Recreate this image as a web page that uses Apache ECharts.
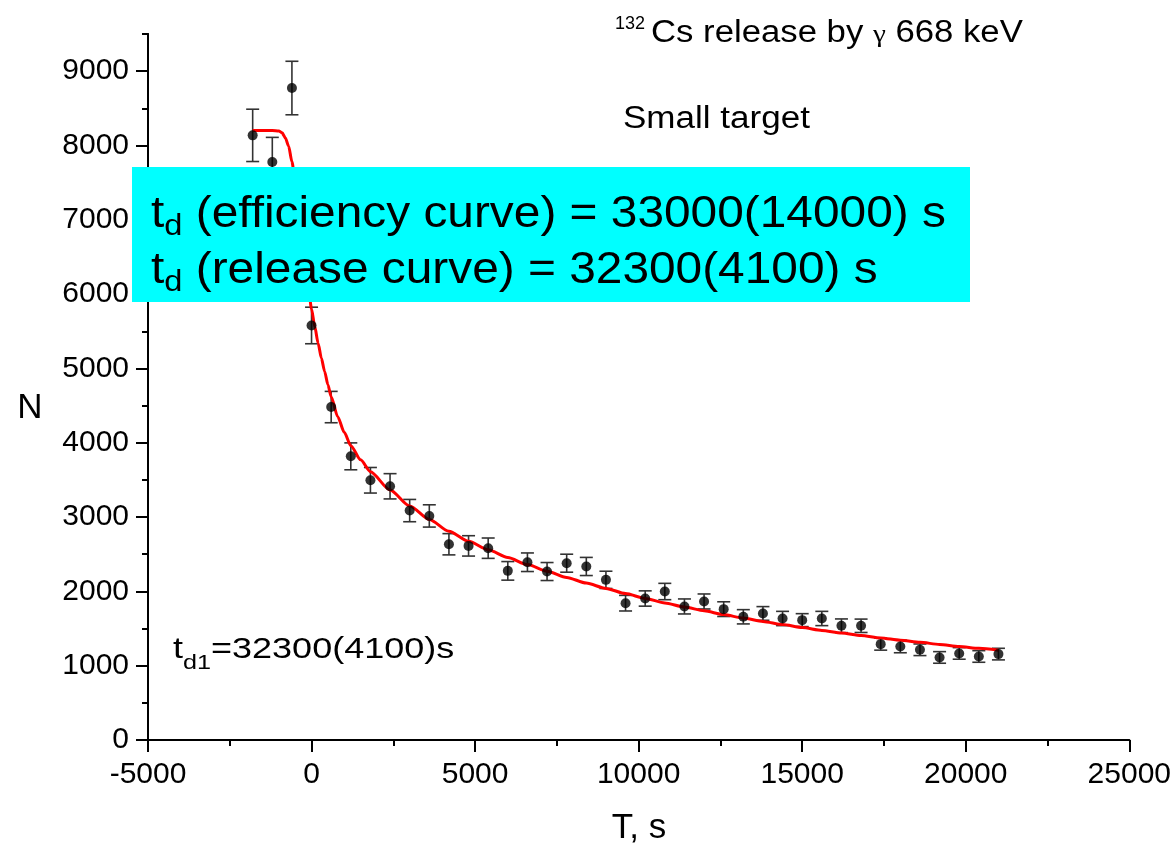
<!DOCTYPE html>
<html>
<head>
<meta charset="utf-8">
<script src="https://cdn.jsdelivr.net/npm/echarts@6/dist/echarts.min.js"></script>
<style>
html,body{margin:0;padding:0;background:#fff;}
#chart{width:1174px;height:847px;}
</style>
</head>
<body>
<div id="chart"></div>
<script>
// ---- data ----
const pointT = [-1800, -1200, -600, 0, 600, 1200, 1800, 2400, 3000, 3600, 4200, 4800, 5400, 6000, 6600, 7200, 7800, 8400, 9000, 9600, 10200, 10800, 11400, 12000, 12600, 13200, 13800, 14400, 15000, 15600, 16200, 16800, 17400, 18000, 18600, 19200, 19800, 20400, 21000];
const pointN = [8136, 7778, 8773, 5578, 4480, 3817, 3495, 3414, 3087, 3015, 2634, 2612, 2581, 2276, 2392, 2267, 2379, 2335, 2155, 1841, 1904, 1998, 1797, 1864, 1761, 1658, 1703, 1635, 1613, 1635, 1537, 1537, 1290, 1259, 1214, 1111, 1165, 1124, 1156];
const pointErr = [352, 331, 360, 246, 211, 181, 172, 170, 150, 150, 143, 137, 137, 125, 125, 121, 121, 122, 116, 105, 103, 110, 101, 101, 99, 96, 92, 96, 87, 96, 92, 90, 81, 85, 78, 78, 78, 78, 78];

const curveT = [-1800, -1200, -1000, -900, -800, -700, -600, -500, -400, -300, -200, -100, 0, 100, 200, 300, 400, 500, 600, 800, 1000, 1200, 1500, 1800, 2400, 3000, 3600, 4200, 4800, 5400, 6000, 6600, 7200, 7800, 8400, 9000, 9600, 10200, 10800, 11400, 12000, 12600, 13200, 13800, 14400, 15000, 15600, 16200, 16800, 17400, 18000, 18600, 19200, 19800, 20400, 21000];
const curveN = [8203, 8203, 8195, 8170, 8100, 7990, 7780, 7520, 7200, 6820, 6450, 6100, 5800, 5560, 5340, 5140, 4960, 4780, 4620, 4350, 4140, 3960, 3770, 3610, 3365, 3150, 2968, 2810, 2675, 2560, 2456, 2360, 2271, 2188, 2111, 2040, 1970, 1905, 1845, 1790, 1738, 1688, 1640, 1595, 1553, 1513, 1475, 1440, 1406, 1374, 1343, 1314, 1286, 1259, 1233, 1208];

const xTicks = [-5000, 0, 5000, 10000, 15000, 20000, 25000];
const yTicks = [0, 1000, 2000, 3000, 4000, 5000, 6000, 7000, 8000, 9000];
const xName = 'T, s';
const yName = 'N';

// ---- helpers ----
const SANS = "'Liberation Sans', Arial, Helvetica, sans-serif";
const SERIF = "'Liberation Serif', 'Times New Roman', serif";
const mctx = document.createElement('canvas').getContext('2d');
function textRuns(x0, items, scale, z) {
  const out = [];
  let x = x0;
  for (const it of items) {
    if (it.x !== undefined) x = it.x;
    const fam = it.family || SANS;
    mctx.font = it.size + 'px ' + fam;
    const w = mctx.measureText(it.text).width;
    const s = it.scale || scale;
    out.push({
      type: 'text', x: x, y: it.base - 0.31 * it.size, scaleX: s, z: z || 120,
      style: { text: it.text, fontSize: it.size, fontFamily: fam, fill: '#000', align: 'left', verticalAlign: 'middle' }
    });
    x += w * s;
  }
  return out;
}

const scatterData = pointT.map((t, i) => [t, pointN[i]]);
const errData = pointT.map((t, i) => [t, pointN[i], pointErr[i]]);
const curveData = curveT.map((t, i) => [t, curveN[i]]);

const graphics = [].concat(
  [{ type: 'rect', shape: { x: 132, y: 167, width: 838, height: 135 }, style: { fill: '#00FFFF' }, z: 110 }],
  textRuns(151, [
    { text: 't', size: 44, base: 228 },
    { text: 'd', size: 30, base: 236 },
    { text: ' (efficiency curve) = 33000(14000) s', size: 44, base: 228 }
  ], 1.087),
  textRuns(151, [
    { text: 't', size: 44, base: 284 },
    { text: 'd', size: 30, base: 292 },
    { text: ' (release curve) = 32300(4100) s', size: 44, base: 284 }
  ], 1.087),
  textRuns(615, [
    { text: '132', size: 18, base: 30, scale: 1.0 },
    { text: 'Cs release by ', size: 31, base: 43, x: 651 },
    { text: 'γ', size: 26, base: 43, family: SERIF },
    { text: ' 668 keV', size: 31, base: 43 }
  ], 1.12),
  textRuns(623, [{ text: 'Small target', size: 31, base: 129 }], 1.13),
  textRuns(173, [
    { text: 't', size: 30, base: 659 },
    { text: 'd1', size: 21, base: 670 },
    { text: '=32300(4100)s', size: 30, base: 659 }
  ], 1.2),
  [
    { type: 'text', x: 639, y: 828, z: 120, style: { text: xName, fontSize: 35, fontFamily: SANS, fill: '#000', align: 'center', verticalAlign: 'middle' } },
    { type: 'text', x: 30, y: 408, z: 120, style: { text: yName, fontSize: 35, fontFamily: SANS, fill: '#000', align: 'center', verticalAlign: 'middle' } }
  ]
);

const axisLineStyle = { color: '#000', width: 2 };
const plain = v => String(v);
const chart = echarts.init(document.getElementById('chart'), null, { renderer: 'canvas' });
chart.setOption({
  backgroundColor: '#fff',
  animation: false,
  grid: { left: 148, right: 44, top: 34, bottom: 107, containLabel: false },
  xAxis: {
    type: 'value', min: xTicks[0], max: xTicks[xTicks.length - 1], interval: 5000,
    axisLine: { show: true, onZero: false, lineStyle: axisLineStyle },
    axisTick: { show: true, inside: false, length: 12, lineStyle: { color: '#000', width: 2 } },
    minorTick: { show: true, splitNumber: 2, length: 6, lineStyle: { color: '#000', width: 2 } },
    splitLine: { show: false },
    axisLabel: { color: '#000', fontSize: 30, fontFamily: SANS, margin: 20, formatter: plain }
  },
  yAxis: [
    {
      type: 'value', min: 0, max: 9500, interval: 500,
      axisLine: { show: true, onZero: false, lineStyle: axisLineStyle },
      axisTick: { show: true, inside: false, length: 6, lineStyle: { color: '#000', width: 2 } },
      axisLabel: { show: false },
      splitLine: { show: false }
    },
    {
      type: 'value', min: 0, max: 9500, position: 'left',
      axisLine: { show: true, onZero: false, lineStyle: axisLineStyle },
      axisTick: { show: true, inside: false, length: 12, customValues: yTicks, lineStyle: { color: '#000', width: 2 } },
      axisLabel: { show: true, customValues: yTicks, color: '#000', fontSize: 30, fontFamily: SANS, margin: 19, formatter: plain },
      splitLine: { show: false }
    }
  ],
  series: [
    {
      type: 'custom', name: 'err', data: errData, z: 3, clip: false,
      encode: { x: 0, y: 1 },
      renderItem: function (params, api) {
        const x = api.value(0), y = api.value(1), e = api.value(2);
        const top = api.coord([x, y + e]);
        const bot = api.coord([x, y - e]);
        const h = 6.5;
        const st = { stroke: '#333', lineWidth: 1.6 };
        return {
          type: 'group', children: [
            { type: 'line', shape: { x1: top[0], y1: top[1], x2: bot[0], y2: bot[1] }, style: st },
            { type: 'line', shape: { x1: top[0] - h, y1: top[1], x2: top[0] + h, y2: top[1] }, style: st },
            { type: 'line', shape: { x1: bot[0] - h, y1: bot[1], x2: bot[0] + h, y2: bot[1] }, style: st }
          ]
        };
      }
    },
    {
      type: 'line', name: 'fit', data: curveData, z: 4, showSymbol: false, symbol: 'none',
      smooth: 0.25, smoothMonotone: 'x',
      lineStyle: { color: '#FF0000', width: 3 }
    },
    {
      type: 'scatter', name: 'N', data: scatterData, z: 5,
      symbol: 'circle', symbolSize: 10, itemStyle: { color: '#000' }
    }
  ],
  graphic: graphics
});
</script>
</body>
</html>
